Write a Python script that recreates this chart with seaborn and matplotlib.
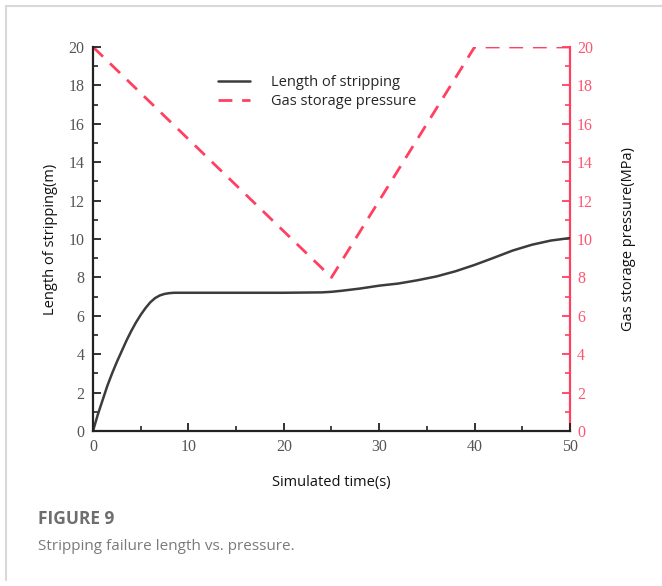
import matplotlib
matplotlib.use("Agg")
import matplotlib.pyplot as plt
import seaborn as sns
import pandas as pd
from matplotlib.ticker import MultipleLocator
from matplotlib.lines import Line2D

# ---- data ----
time_len = [0, 0.5, 1, 1.5, 2, 2.5, 3, 3.5, 4, 4.5, 5, 5.5, 6, 6.5, 7, 7.5, 8, 8.5, 9, 10, 15, 20, 24, 25, 26, 28, 30, 32, 34, 36, 38, 40, 42, 44, 46, 48, 50]
length_m = [0, 0.85, 1.6, 2.35, 3.0, 3.6, 4.15, 4.7, 5.2, 5.65, 6.05, 6.4, 6.7, 6.92, 7.06, 7.14, 7.18, 7.2, 7.2, 7.2, 7.2, 7.2, 7.22, 7.25, 7.3, 7.42, 7.57, 7.68, 7.85, 8.05, 8.32, 8.65, 9.02, 9.4, 9.7, 9.92, 10.05]
time_p = [0, 25, 40, 50]
pressure = [20, 8, 20, 20]
x_ticks = [0, 10, 20, 30, 40, 50]
y_ticks = [0, 2, 4, 6, 8, 10, 12, 14, 16, 18, 20]

sns.set_style("white")
plt.rcParams['font.family'] = ['DejaVu Sans']

RED = "#ff4060"
RED_TXT = "#ff5570"
GRAY_TXT = "#555555"

fig = plt.figure(figsize=(6.62, 5.86), dpi=100)
ax = fig.add_axes([0.1405, 0.2645, 0.7205, 0.6553])
ax2 = ax.twinx()

df_len = pd.DataFrame({"t": time_len, "L": length_m})
df_p = pd.DataFrame({"t": time_p, "P": pressure})

sns.lineplot(data=df_len, x="t", y="L", ax=ax, color="#3c3c3c", lw=1.8)
sns.lineplot(data=df_p, x="t", y="P", ax=ax2, color=RED, lw=2.0)
ax2.lines[0].set_dashes([5, 3.5])

for a in (ax, ax2):
    a.set_xlim(0, 50)
    a.set_ylim(0, 20)
    a.spines['top'].set_visible(False)

ax.set_zorder(2)
ax.patch.set_visible(False)
ax2.set_zorder(1)

serif = "Liberation Serif"
ax.set_xticks(x_ticks)
ax.set_yticks(y_ticks)
ax2.set_yticks(y_ticks)
ax.set_xticklabels([str(v) for v in x_ticks], family=serif, fontsize=11.5, color=GRAY_TXT)
ax.set_yticklabels([str(v) for v in y_ticks], family=serif, fontsize=11.5, color=GRAY_TXT)
ax2.set_yticklabels([str(v) for v in y_ticks], family=serif, fontsize=11.5, color=RED_TXT)
ax.xaxis.set_minor_locator(MultipleLocator(5))
ax.yaxis.set_minor_locator(MultipleLocator(1))
ax2.yaxis.set_minor_locator(MultipleLocator(1))

ax.tick_params(axis='both', which='major', direction='in', length=6, width=1.3, color='#222222', pad=6)
ax.tick_params(axis='both', which='minor', direction='in', length=3.5, width=1.2, color='#222222')
ax.tick_params(axis='y', which='both', left=True, right=False)
ax.tick_params(axis='x', which='both', bottom=True)
ax2.tick_params(axis='y', which='major', direction='in', length=6, width=1.3, color=RED, pad=5)
ax2.tick_params(axis='y', which='minor', direction='in', length=3.5, width=1.2, color=RED)

for s in ('left', 'bottom'):
    ax.spines[s].set_color('#222222')
    ax.spines[s].set_linewidth(1.6)
ax.spines['right'].set_visible(False)
ax2.spines['left'].set_visible(False)
ax2.spines['bottom'].set_visible(False)
ax2.spines['right'].set_color(RED)
ax2.spines['right'].set_linewidth(1.6)

lab_font = "Open Sans"
ax.set_xlabel("Simulated time(s)", family=lab_font, fontsize=10.5, color="#111111", labelpad=14)
ax.set_ylabel("Length of stripping(m)", family=lab_font, fontsize=10.5, color="#111111", labelpad=8)
ax2.set_ylabel("Gas storage pressure(MPa)", family=lab_font, fontsize=10.5, color="#111111", labelpad=20)

handles = [Line2D([0], [0], color="#3c3c3c", lw=1.8),
           Line2D([0], [0], color=RED, lw=2.0, dashes=[5, 3.5])]
leg = ax.legend(handles, ["Length of stripping", "Gas storage pressure"],
                loc="upper left", bbox_to_anchor=(0.235, 0.96), frameon=False,
                handlelength=2.2, handletextpad=1.45, labelspacing=0.25,
                prop={"family": lab_font, "size": 10.5})

fig.text(38 / 662, 1 - 519 / 586, "FIGURE 9", family=lab_font, fontsize=12.5, fontweight="bold",
         color="#6e6e6e", va="center", ha="left")
fig.text(38 / 662, 1 - 546 / 586, "Stripping failure length vs. pressure.", family=lab_font, fontsize=11,
         color="#7a7a7a", va="center", ha="left")

# frame lines
fig.add_artist(Line2D([6 / 662, 1], [1 - 6 / 586, 1 - 6 / 586], transform=fig.transFigure, color="#d8d8d8", lw=1.5))
fig.add_artist(Line2D([6 / 662, 6 / 662], [1 - 6 / 586, 1 - 580 / 586], transform=fig.transFigure, color="#d8d8d8", lw=1.5))

fig.savefig("out.png", dpi=100)
